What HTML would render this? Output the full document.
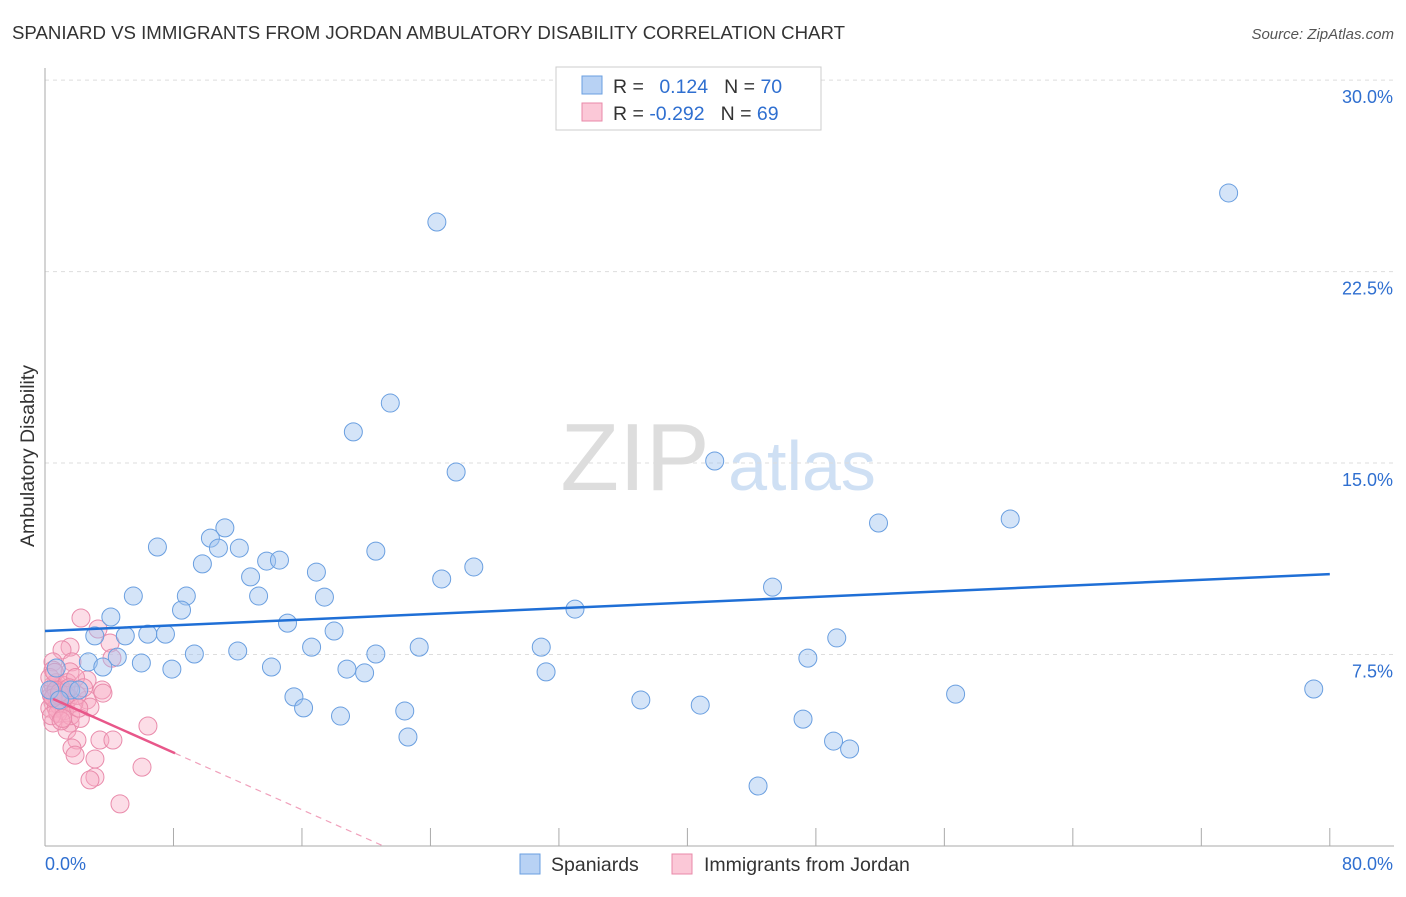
<!DOCTYPE html>
<html><head><meta charset="utf-8"><style>
body{margin:0;background:#fff;font-family:"Liberation Sans",sans-serif;}
svg text{font-family:"Liberation Sans",sans-serif;}
</style></head><body>
<svg id="chart" width="1406" height="892" viewBox="0 0 1406 892">
<text x="12" y="39" font-size="18" fill="#333" textLength="833" lengthAdjust="spacingAndGlyphs">SPANIARD VS IMMIGRANTS FROM JORDAN AMBULATORY DISABILITY CORRELATION CHART</text>
<text x="1394" y="39" font-size="15" fill="#555" font-style="italic" text-anchor="end">Source: ZipAtlas.com</text>
<g>
<text x="635" y="490" font-size="96" fill="#ddd" font-family="Liberation Serif,serif" text-anchor="middle">ZIP</text>
<text x="802" y="490" font-size="70" fill="#cfe0f4" text-anchor="middle">atlas</text>
</g>
<g id="grid"></g>
<g id="axes"></g>
<g id="points"></g>
<g id="trends"></g>
<text x="34" y="456" font-size="19.5" fill="#333" text-anchor="middle" transform="rotate(-90 34 456)">Ambulatory Disability</text>
<g>
<rect x="556" y="67" width="265" height="63" fill="#fff" stroke="#ccc"/>
<rect x="582" y="76" width="20" height="18" fill="#b8d2f4" stroke="#6a9fe0"/>
<rect x="582" y="103" width="20" height="18" fill="#fbc8d7" stroke="#e889a8"/>
<text x="613" y="93" font-size="19.5" fill="#333">R = <tspan fill="#2f6fd0" dx="10">0.124</tspan><tspan dx="16" fill="#333">N = </tspan><tspan fill="#2f6fd0">70</tspan></text>
<text x="613" y="120" font-size="19.5" fill="#333">R = <tspan fill="#2f6fd0">-0.292</tspan><tspan dx="16" fill="#333">N = </tspan><tspan fill="#2f6fd0">69</tspan></text>
</g>
<g>
<rect x="520" y="854" width="20" height="20" fill="#b8d2f4" stroke="#6a9fe0"/>
<text x="551" y="871" font-size="19.5" fill="#333">Spaniards</text>
<rect x="672" y="854" width="20" height="20" fill="#fbc8d7" stroke="#e889a8"/>
<text x="704" y="871" font-size="19.5" fill="#333">Immigrants from Jordan</text>
</g>
</svg>
<script>
const blueX=[24.4,73.7,21.5,19.2,25.6,41.7,51.9,60.1,11.2,7.0,10.3,12.1,10.8,20.6,13.8,14.6,9.8,16.9,12.8,24.7,26.7,5.5,8.8,8.5,13.3,17.4,45.3,33.0,4.1,15.1,3.1,5.0,6.4,7.5,18.0,49.3,30.9,23.3,16.6,12.0,9.3,20.6,4.5,2.7,6.0,7.9,14.1,18.8,19.9,31.2,47.5,3.6,1.6,2.1,15.5,16.1,18.4,22.4,37.1,40.8,56.7,79.0,47.2,22.6,49.1,50.1,44.4,0.7,0.3,0.9];
const blueY=[24.44,25.58,17.35,16.22,14.65,15.08,12.65,12.81,12.46,11.71,12.06,11.67,11.67,11.55,11.16,11.2,11.05,10.73,10.54,10.46,10.93,9.79,9.79,9.24,9.79,9.75,10.14,9.28,8.97,8.73,8.23,8.23,8.3,8.3,8.42,8.15,7.79,7.79,7.79,7.64,7.52,7.52,7.4,7.21,7.17,6.93,7.01,6.93,6.78,6.82,7.36,7.01,6.11,6.11,5.84,5.41,5.09,5.29,5.72,5.52,5.95,6.15,4.97,4.27,4.11,3.8,2.35,6.97,6.11,5.72];
const pinkX=[2.24,3.30,4.05,1.56,1.06,0.50,1.68,4.17,0.50,1.56,2.62,3.55,3.61,0.50,2.62,2.80,0.50,1.56,1.37,1.99,3.42,4.23,1.68,1.87,6.41,3.11,3.11,2.80,6.04,4.67,0.4,0.6,0.8,1.0,0.5,0.7,1.2,0.3,0.9,1.1,0.6,0.8,0.4,1.3,0.5,0.7,1.0,0.9,1.5,1.8,0.3,0.6,1.4,2.0,1.2,0.8,1.6,2.2,0.4,1.0,1.9,2.4,1.1,0.7,1.3,0.5,0.9,1.5,2.1];
const pinkY=[8.93,8.50,7.95,7.79,7.68,7.21,7.21,7.36,6.89,6.82,6.50,6.11,5.99,5.84,5.72,5.44,4.82,4.82,4.54,4.15,4.15,4.15,3.84,3.56,4.70,3.41,2.70,2.59,3.09,1.65,6.1,5.9,6.2,5.8,5.6,6.4,6.0,5.4,5.5,6.3,6.0,5.7,5.9,5.6,6.3,5.4,6.1,5.9,5.8,5.6,6.6,6.8,6.4,5.9,5.3,5.2,5.1,5.0,5.1,4.9,6.6,6.2,5.0,6.1,5.9,5.8,6.0,6.2,5.4];
const yTicks=[7.5,15.0,22.5,30.0];
const xTickLabels=["0.0%","80.0%"];
const blueTrend=[8.42,10.65];
const pinkTrend=[5.9,-0.28];
const pinkSolidEnd=8.1;

const NS="http://www.w3.org/2000/svg";
const X=v=>45+v*16.06, Y=v=>846-v*25.53;
function mk(tag,attrs,parent){const e=document.createElementNS(NS,tag);for(const k in attrs)e.setAttribute(k,attrs[k]);parent.appendChild(e);return e;}
const grid=document.getElementById('grid'),axes=document.getElementById('axes'),pts=document.getElementById('points'),tr=document.getElementById('trends');
yTicks.forEach(t=>{
  const l=mk('line',{x1:45,x2:1394,y1:Y(t),y2:Y(t),stroke:'#ddd','stroke-dasharray':'4,4'},grid);
  
  
  const tx=mk('text',{x:1393,y:Y(t)+23,'font-size':18,fill:'#2f6fd0','text-anchor':'end'},axes);
  tx.textContent=t.toFixed(1)+'%';
  
  
});
const ya=mk('line',{x1:45,x2:45,y1:68,y2:846,stroke:'#aaa'},axes);


const xa=mk('line',{x1:45,x2:1394,y1:846,y2:846,stroke:'#aaa'},axes);


for(let i=0;i<=10;i++){
  const tk=mk('line',{x1:X(i*8),x2:X(i*8),y1:828,y2:846,stroke:'#aaa'},axes);
  
  
}
const xl0=mk('text',{x:45,y:870,'font-size':18,fill:'#2f6fd0'},axes);xl0.textContent=xTickLabels[0];


const xl1=mk('text',{x:1393,y:870,'font-size':18,fill:'#2f6fd0','text-anchor':'end'},axes);xl1.textContent=xTickLabels[1];


pinkX.forEach((v,i)=>{
  const c=mk('circle',{cx:X(v),cy:Y(pinkY[i]),r:9,fill:'rgba(248,170,195,0.4)',stroke:'#e98bab','stroke-width':1},pts);
  
  
});
blueX.forEach((v,i)=>{
  const c=mk('circle',{cx:X(v),cy:Y(blueY[i]),r:9,fill:'rgba(160,196,240,0.45)',stroke:'#6a9fe0','stroke-width':1},pts);
  
  
});
const bl=mk('line',{x1:X(0),y1:Y(blueTrend[0]),x2:X(80),y2:Y(blueTrend[1]),stroke:'#1f6fd6','stroke-width':2.5},tr);


const pe=-pinkTrend[0]/pinkTrend[1];
const ps=mk('line',{x1:X(0.5),y1:Y(pinkTrend[0]+pinkTrend[1]*0.5),x2:X(pinkSolidEnd),y2:Y(pinkTrend[0]+pinkTrend[1]*pinkSolidEnd),stroke:'#e8578a','stroke-width':2.5},tr);


const pd=mk('line',{x1:X(pinkSolidEnd),y1:Y(pinkTrend[0]+pinkTrend[1]*pinkSolidEnd),x2:X(pe),y2:Y(0),stroke:'#f0a0bb','stroke-width':1.2,'stroke-dasharray':'6,5'},tr);


</script>
</body></html>
